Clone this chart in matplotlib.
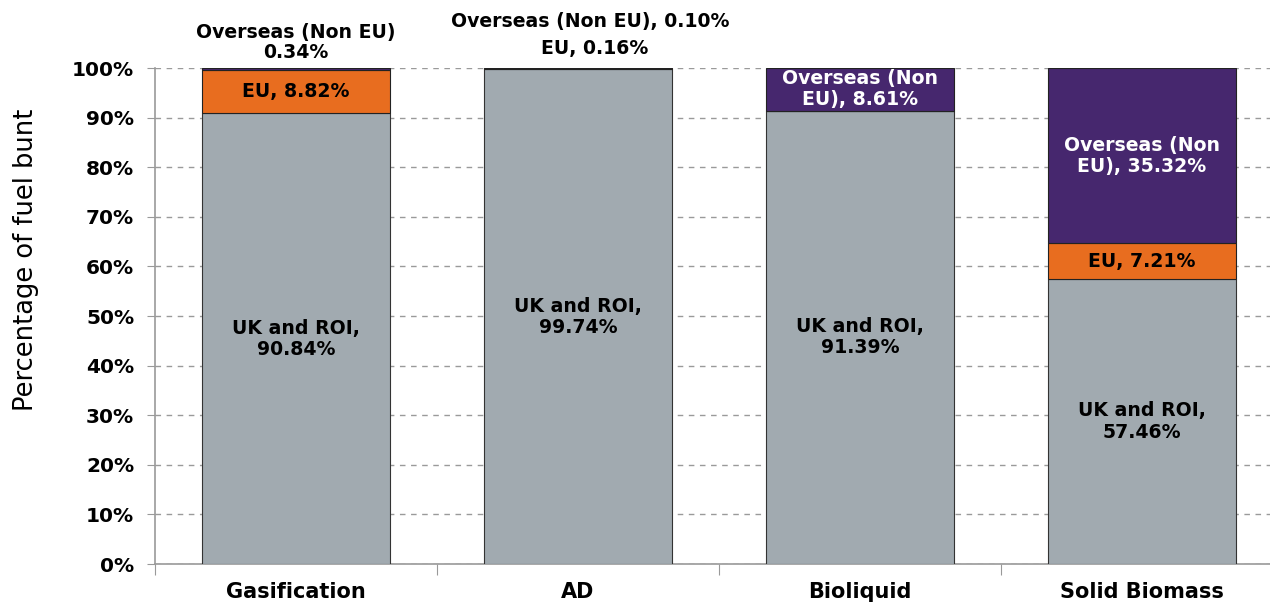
import numpy as np
import matplotlib.pyplot as plt
from matplotlib.ticker import FuncFormatter

categories = ["Gasification", "AD", "Bioliquid", "Solid Biomass"]
uk_roi = [90.84, 99.74, 91.39, 57.46]
eu = [8.82, 0.16, 0.0, 7.21]
overseas = [0.34, 0.10, 8.61, 35.32]

grey = "#A1AAB0"
orange = "#E86D1F"
purple = "#46276E"

plt.rcParams['font.family'] = ['DejaVu Sans']

fig = plt.figure(figsize=(12.70, 6.02), dpi=100)
ax = fig.add_axes([155 / 1270, 38 / 602, 1128 / 1270, 496 / 602])

x = np.arange(len(categories))
w = 0.667
uk = np.array(uk_roi)
e = np.array(eu)
o = np.array(overseas)

ax.bar(x, uk, w, color=grey, edgecolor="#333333", linewidth=0.8, zorder=3)
ax.bar(x, e, w, bottom=uk, color=orange, edgecolor="#222222", linewidth=0.8, zorder=3)
ax.bar(x, o, w, bottom=uk + e, color=purple, edgecolor="#222222", linewidth=0.8, zorder=3)

fs = 13.6
# UK and ROI labels, centred in segment
for i in range(len(categories)):
    ax.text(x[i], uk[i] / 2, f"UK and ROI,\n{uk[i]:.2f}%", ha="center", va="center",
            fontsize=fs, fontweight="bold", color="black", zorder=4, linespacing=1.15)

# EU labels inside where big enough
for i in [0, 3]:
    ax.text(x[i], uk[i] + e[i] / 2, f"EU, {e[i]:.2f}%", ha="center", va="center",
            fontsize=fs, fontweight="bold", color="black", zorder=4)

# overseas labels inside
for i in [2, 3]:
    ax.text(x[i], uk[i] + e[i] + o[i] / 2, f"Overseas (Non\nEU), {o[i]:.2f}%", ha="center",
            va="center", fontsize=fs, fontweight="bold", color="white", zorder=4,
            linespacing=1.15)

# small segments labelled above the bars
ax.annotate(f"Overseas (Non EU)\n{o[0]:.2f}%", xy=(x[0], 100), xytext=(0, 4),
            textcoords="offset points", ha="center", va="bottom", fontsize=fs,
            fontweight="bold", linespacing=1.1, annotation_clip=False)
ax.annotate(f"Overseas (Non EU), {o[1]:.2f}%", xy=(x[1], 100), xytext=(9, 27),
            textcoords="offset points", ha="center", va="bottom", fontsize=fs,
            fontweight="bold", annotation_clip=False)
ax.annotate(f"EU, {e[1]:.2f}%", xy=(x[1], 100), xytext=(12, 7),
            textcoords="offset points", ha="center", va="bottom", fontsize=fs,
            fontweight="bold", annotation_clip=False)

ax.set_ylim(0, 100)
ax.set_xlim(-0.5, len(categories) - 0.5)
ax.set_yticks(np.arange(0, 101, 10))
ax.yaxis.set_major_formatter(FuncFormatter(lambda v, p: f"{v:.0f}%"))
ax.yaxis.grid(True, linestyle=(0, (4, 4)), color="#9A9A9A", linewidth=1, zorder=0)

ax.set_xticks(np.arange(-0.5, len(categories) + 0.5, 1))
ax.set_xticklabels([])
ax.set_xticks(x, minor=True)
ax.set_xticklabels(categories, minor=True)
ax.tick_params(axis="x", which="minor", length=0, pad=13, labelsize=15)
ax.tick_params(axis="x", which="major", length=8, color="#999999")
ax.tick_params(axis="y", length=6, color="#999999", labelsize=14.5, pad=9)
for lab in ax.get_xticklabels(minor=True) + ax.get_yticklabels():
    lab.set_fontweight("bold")

for s in ["top", "right"]:
    ax.spines[s].set_visible(False)
for s in ["left", "bottom"]:
    ax.spines[s].set_color("#999999")
    ax.spines[s].set_linewidth(1.2)

ax.set_ylabel("Percentage of fuel bunt", fontsize=18.5)
ax.yaxis.set_label_coords(-0.103, 0.613)

fig.savefig("out.png", dpi=100)
